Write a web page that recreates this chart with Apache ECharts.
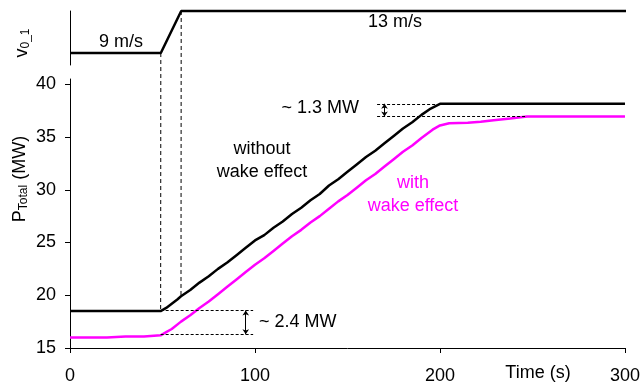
<!DOCTYPE html>
<html>
<head>
<meta charset="utf-8">
<script src="https://cdn.jsdelivr.net/npm/echarts@6/dist/echarts.min.js"></script>
<style>
  html, body { margin: 0; padding: 0; background: #fff; }
  #main { width: 643px; height: 387px; }
</style>
</head>
<body>
<div id="main"></div>
<script>
const FONT = 'Liberation Sans, Arial, sans-serif'

// x axis (time, s) and y axis ticks
const timeTicks = [0, 100, 200, 300]
const powerTicks = [15, 20, 25, 30, 35, 40]

// wind speed step 9 -> 13 m/s
const windSpeed = [[0, 9], [49, 9], [60, 13], [300, 13]]

// total power without wake effect (MW)
const noWake = [
  [0, 18.5], [49, 18.5], [52, 18.8], [55, 19.2], [58, 19.6], [60, 19.9], [65, 20.5],
  [70, 21.2], [75, 21.8], [80, 22.5], [85, 23.1], [90, 23.8], [95, 24.5], [100, 25.2],
  [105, 25.7], [110, 26.4], [115, 27.0], [120, 27.7], [125, 28.3], [130, 29.0],
  [135, 29.6], [140, 30.4], [145, 31.0], [150, 31.7], [155, 32.4], [160, 33.1],
  [165, 33.7], [170, 34.4], [175, 35.1], [180, 35.8], [185, 36.4], [190, 37.1],
  [195, 37.7], [200, 38.15], [300, 38.15]
]

// total power with wake effect (MW)
const withWake = [
  [0, 16.0], [20, 16.0], [30, 16.1], [40, 16.1], [49, 16.2], [52, 16.5], [55, 16.8],
  [60, 17.5], [65, 18.1], [70, 18.8], [75, 19.4], [80, 20.1], [85, 20.8], [90, 21.5],
  [95, 22.2], [100, 22.9], [105, 23.5], [110, 24.2], [115, 24.9], [120, 25.6],
  [125, 26.2], [130, 26.9], [135, 27.5], [140, 28.2], [145, 28.9], [150, 29.5],
  [155, 30.2], [160, 30.9], [165, 31.5], [170, 32.2], [175, 32.9], [180, 33.6],
  [185, 34.2], [190, 34.9], [196, 35.7], [200, 36.1], [205, 36.3], [215, 36.35],
  [222, 36.45], [229, 36.6], [238, 36.75], [247, 36.95], [300, 36.95]
]

// annotation levels
const highLevels = [38.15, 36.95]   // ~1.3 MW gap at the end
const lowLevels = [18.55, 16.3]     // ~2.4 MW gap at the start

const dotted = { color: '#000', width: 1, type: [3, 2] }

const chart = echarts.init(document.getElementById('main'))

const option = {
  animation: false,
  grid: [
    { left: 70, right: 17, top: 11, height: 54 },
    { left: 70, right: 17, top: 79, bottom: 39 }
  ],
  xAxis: [
    { gridIndex: 0, type: 'value', min: 0, max: 300, show: false },
    {
      gridIndex: 1, type: 'value', min: 0, max: 300, interval: 100,
      splitLine: { show: false },
      axisLine: { lineStyle: { color: '#000', width: 1 } },
      axisTick: { length: 5, lineStyle: { color: '#000' } },
      axisLabel: {
        color: '#000', fontFamily: FONT, fontSize: 18, margin: 19,
        customValues: timeTicks
      }
    }
  ],
  yAxis: [
    {
      gridIndex: 0, type: 'value', min: 7.86, max: 13,
      splitLine: { show: false },
      axisLine: { show: true, lineStyle: { color: '#000', width: 1 } },
      axisTick: { show: false },
      axisLabel: { show: false }
    },
    {
      gridIndex: 1, type: 'value', min: 15, max: 40.5,
      splitLine: { show: false },
      axisLine: { show: true, lineStyle: { color: '#000', width: 1 } },
      axisTick: { show: true, length: 5, lineStyle: { color: '#000' }, customValues: powerTicks },
      axisLabel: {
        color: '#000', fontFamily: FONT, fontSize: 18, margin: 14,
        customValues: powerTicks
      }
    }
  ],
  series: [
    {
      type: 'line', xAxisIndex: 0, yAxisIndex: 0, data: windSpeed,
      symbol: 'none', clip: false,
      lineStyle: { color: '#000', width: 2.5 }
    },
    {
      type: 'line', xAxisIndex: 1, yAxisIndex: 1, data: noWake,
      symbol: 'none', clip: false,
      lineStyle: { color: '#000', width: 2.5 },
      markLine: {
        silent: true, symbol: 'none', label: { show: false },
        lineStyle: dotted,
        data: [
          [{ coord: [166, highLevels[0]] }, { coord: [200, highLevels[0]] }],
          [{ coord: [166, highLevels[1]] }, { coord: [247, highLevels[1]] }],
          [{ coord: [49, lowLevels[0]] }, { coord: [99, lowLevels[0]] }],
          [{ coord: [49, lowLevels[1]] }, { coord: [99, lowLevels[1]] }],
          [
            { coord: [170, highLevels[0]], symbol: 'arrow', symbolSize: [5, 5], lineStyle: { type: 'solid' } },
            { coord: [170, highLevels[1]], symbol: 'arrow', symbolSize: [5, 5] }
          ],
          [
            { coord: [95, lowLevels[0]], symbol: 'arrow', symbolSize: [5, 5], lineStyle: { type: 'solid' } },
            { coord: [95, lowLevels[1]], symbol: 'arrow', symbolSize: [5, 5] }
          ]
        ]
      }
    },
    {
      type: 'line', xAxisIndex: 1, yAxisIndex: 1, data: withWake,
      symbol: 'none', clip: false,
      lineStyle: { color: '#ff00ff', width: 2.5 }
    }
  ]
}

chart.setOption(option)

const txt = (x, y, text, color, align) => ({
  type: 'text', x: x, y: y, silent: true,
  style: {
    text: text, fill: color || '#000', font: '18px ' + FONT,
    align: align || 'center', verticalAlign: 'middle', lineHeight: 23
  }
})
// rotated axis titles with subscripts
const subRich = {
  a: { fontFamily: FONT, fontSize: 18, fill: '#000' },
  b: { fontFamily: FONT, fontSize: 12, fill: '#000', verticalAlign: 'bottom', padding: [8, 0, 0, 0] }
}
const vtitle = (x, y, text) => ({
  type: 'text', x: x, y: y, rotation: Math.PI / 2, silent: true,
  style: { text: text, rich: subRich, align: 'center', verticalAlign: 'middle' }
})
// dashed verticals crossing both panels, placed through the axes' scales
const vline = (t, topV, botV) => {
  const p1 = chart.convertToPixel({ gridIndex: 0 }, [t, topV])
  const p2 = chart.convertToPixel({ gridIndex: 1 }, [t, botV])
  return {
    type: 'line', silent: true, z: 1,
    shape: { x1: p1[0], y1: p1[1], x2: p2[0], y2: p2[1] },
    style: { stroke: '#000', lineWidth: 1, lineDash: [4, 3] }
  }
}

chart.setOption({
  graphic: [
    vline(windSpeed[1][0], windSpeed[1][1], noWake[1][1]),
    vline(windSpeed[2][0], windSpeed[2][1], noWake[5][1]),
    vtitle(22, 43, '{a|v}{b|0_1}'),
    vtitle(20, 179, '{a|P}{b|Total}{a| (MW)}'),
    txt(121, 42, '9 m/s'),
    txt(395, 22, '13 m/s'),
    txt(262, 161, 'without\nwake effect'),
    txt(413, 195, 'with\nwake effect', '#ff00ff'),
    txt(359, 108, '~ 1.3 MW', '#000', 'right'),
    txt(259, 322, '~ 2.4 MW', '#000', 'left'),
    txt(538, 373, 'Time (s)')
  ]
})
</script>
</body>
</html>
